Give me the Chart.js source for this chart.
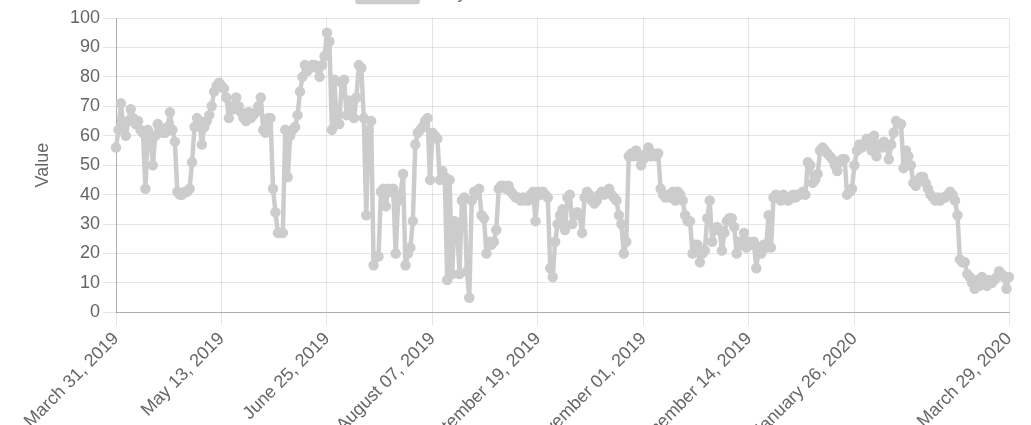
<!DOCTYPE html>
<html>
<head>
<meta charset="utf-8">
<script src="https://cdn.jsdelivr.net/npm/chart.js@4"></script>
<style>
  html, body { margin: 0; padding: 0; background: #fff; overflow: hidden; }
  #wrap { position: absolute; left: 0; top: -37px; width: 1034px; height: 499px; }
</style>
</head>
<body>
<div id="wrap"><canvas id="c" width="1034" height="499"></canvas></div>
<script>
// ---- data (daily values, 31 Mar 2019 .. 29 Mar 2020) ----
const startDate = "2019-03-31";
const dayCount = 365;
const seriesLabel = "Daily Sentiment Index Value";
const tickLabels = ["March 31, 2019", "May 13, 2019", "June 25, 2019", "August 07, 2019",
  "September 19, 2019", "November 01, 2019", "December 14, 2019", "January 26, 2020", "March 29, 2020"];

const part1 = [56,62,71,63,60,65,69,66,64,65, 62,61,42,62,60,50,60,64,62,61, 61,63,68,62,58,41,40,40,41,41, 42,51,63,66,65,57,63,65,67,70, 75,77,78,77];
const part2 = [76,73,66,70,69,73,70,68,66,65, 68,66,67,68,70,73,62,61,66,66, 42,34,27,27,27,62,46,60,62,63, 67,75,80,84,82,83,84,84,83,80, 84,87,95,92];
const part3 = [62,79,64,64,78,79,67,72,69,66, 73,84,83,66,33,62,65,16,19,19, 41,42,36,42,41,42,20,38,40,47, 16,20,22,31,57,61,62,63,65,66, 45,61,60,59,45,48,46,11];
const part4 = [45,13,31,30,13,38,39,14,5,38, 41,40,42,33,32,20,24,23,24,28, 42,43,43,42,43,41,40,39,39,38, 39,38,38,40,41,31,41,40,41,40, 39,15,12,24,30];
const part5 = [33,35,28,39,40,30,33,34,33,27, 39,41,40,38,37,38,40,41,40,41, 42,40,39,38,33,30,20,24,53,54, 53,55,53,50,52,54,56,53,54,53, 54,42,40,39,40,39,41,38,41,40, 38];
const part6 = [33,31,31,20,23,23,17,20,21,32, 38,24,28,29,28,21,27,31,32,32, 29,20,24,23,27,22,24,23,24,15, 22,20,23,22,33,22,39,40,39,38, 40,39,38,39,40,39,40];
const part7 = [40,41,40,51,50,44,45,47,55,56, 55,54,53,52,50,48,51,52,52,40, 41,42,50,55,57,56,57,59,57,55, 60,53,57,56,58,57,52,57,61,65, 64,64,49,55,53,50];
const part8 = [44,43,45,46,46,44,42,40,39,38, 39,38,39,39,40,41,40,38,33,18, 17,17,13,12,10,8,11,9,12,10, 9,11,10,11,12,14,13,12,8,12];

const values = [].concat(part1, part2, part3, part4, part5, part6, part7, part8);

const monthNames = ["January","February","March","April","May","June","July","August","September","October","November","December"];
const categories = [];
{
  const d0 = new Date(startDate + "T00:00:00Z");
  for (let i = 0; i < dayCount; i++) {
    const d = new Date(d0.getTime() + i * 86400000);
    const dd = String(d.getUTCDate()).padStart(2, "0");
    categories.push(monthNames[d.getUTCMonth()] + " " + dd + ", " + d.getUTCFullYear());
  }
}

Chart.defaults.font.family = "'Helvetica Neue', Helvetica, Arial, 'Liberation Sans', sans-serif";
Chart.defaults.font.size = 18;
Chart.defaults.color = "#666";

// adds a little space under the legend row
const legendGap = {
  id: "legendGap",
  beforeUpdate(chart) {
    const lg = chart.legend;
    if (lg && !lg._gapPatched) {
      const fit = lg.fit;
      lg.fit = function () { fit.call(this); this.height += 6; };
      lg._gapPatched = true;
    }
  }
};

const lineColor = "rgb(204,204,204)";
new Chart(document.getElementById("c"), {
  type: "line",
  plugins: [legendGap],
  data: {
    labels: categories,
    datasets: [{
      label: seriesLabel,
      data: values,
      borderColor: lineColor,
      backgroundColor: lineColor,
      pointBackgroundColor: lineColor,
      pointBorderColor: lineColor,
      borderWidth: 4.5,
      borderJoinStyle: "round",
      pointRadius: 4.5,
      pointBorderWidth: 1.5,
      tension: 0,
      fill: false
    }]
  },
  options: {
    responsive: false,
    animation: false,
    events: [],
    layout: { padding: { right: 25 } },
    plugins: {
      legend: {
        display: true,
        position: "top",
        labels: { boxWidth: 60, boxHeight: 18, padding: 21, font: { size: 18 } }
      },
      tooltip: { enabled: false }
    },
    scales: {
      x: {
        type: "category",
        offset: false,
        afterBuildTicks: (axis) => {
          axis.ticks = axis.ticks.filter(t => tickLabels.includes(categories[t.value]));
        },
        ticks: {
          autoSkip: false,
          minRotation: 45,
          maxRotation: 45,
          padding: 3,
          callback: function (v) { return categories[v]; }
        },
        grid: { color: "rgba(0,0,0,0.1)", tickLength: 13 },
        border: { color: "rgba(0,0,0,0.25)" }
      },
      y: {
        min: 0,
        max: 100,
        afterFit: (axis) => { axis.width = 116; },
        ticks: { stepSize: 10, padding: 3 },
        title: { display: true, text: "Value", font: { size: 18 }, padding: { top: 32, bottom: 4 } },
        grid: { color: "rgba(0,0,0,0.1)", tickLength: 13 },
        border: { color: "rgba(0,0,0,0.25)" }
      }
    }
  }
});
</script>
</body>
</html>
